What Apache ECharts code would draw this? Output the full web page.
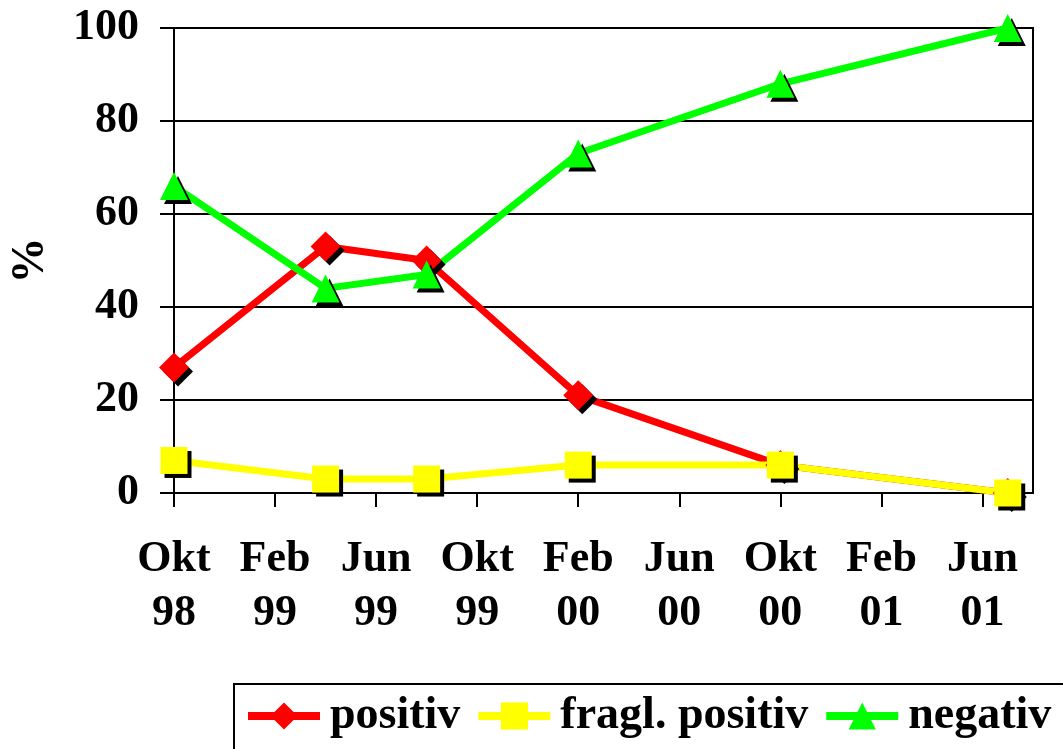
<!DOCTYPE html>
<html>
<head>
<meta charset="utf-8">
<script src="https://cdn.jsdelivr.net/npm/echarts@6/dist/echarts.min.js"></script>
<style>
  html, body { margin: 0; padding: 0; background: #fff; }
  #chart { width: 1063px; height: 749px; }
</style>
</head>
<body>
<div id="chart"></div>
<script>
// months counted from Okt 98
var tickMonths = [0, 4, 8, 12, 16, 20, 24, 28, 32];
var tickLabels = ['Okt\n98', 'Feb\n99', 'Jun\n99', 'Okt\n99', 'Feb\n00', 'Jun\n00', 'Okt\n00', 'Feb\n01', 'Jun\n01'];
var yTicks = [0, 20, 40, 60, 80, 100];

var sampleMonths = [0, 6, 10, 16, 24, 33];
var positiv = [27, 53, 50, 21, 6, 0];
var fraglPositiv = [7, 3, 3, 6, 6, 0];
var negativ = [66, 44, 47, 73, 88, 100];

function pairs(vals) {
  return vals.map(function (v, i) { return [sampleMonths[i], v]; });
}

var font = "'Liberation Serif', 'Times New Roman', serif";
var shadow = { shadowColor: '#000', shadowBlur: 0, shadowOffsetX: 4, shadowOffsetY: 4 };

function lineSeries(name, vals, color, symbol, size) {
  return {
    name: name,
    type: 'line',
    data: pairs(vals),
    symbol: symbol,
    symbolSize: size,
    showAllSymbol: true,
    lineStyle: { color: color, width: 7 },
    itemStyle: Object.assign({ color: color }, shadow)
  };
}

var chart = echarts.init(document.getElementById('chart'));
chart.setOption({
  animation: false,
  backgroundColor: '#fff',
  textStyle: { fontFamily: font, fontWeight: 'bold', color: '#000' },
  grid: {
    left: 172, right: 30, top: 28, bottom: 256,
    show: true, borderColor: '#000', borderWidth: 2
  },
  xAxis: {
    type: 'value',
    min: 0,
    max: 34,
    splitLine: { show: false },
    axisLine: { show: true, onZero: false, lineStyle: { color: '#000', width: 2 } },
    axisTick: { show: true, length: 14, customValues: tickMonths, lineStyle: { color: '#000', width: 2 } },
    axisLabel: {
      customValues: tickMonths,
      margin: 40,
      fontSize: 44,
      lineHeight: 54,
      fontFamily: font,
      fontWeight: 'bold',
      color: '#000',
      formatter: function (v) {
        var i = tickMonths.indexOf(v);
        return i >= 0 ? tickLabels[i] : '';
      }
    }
  },
  yAxis: {
    type: 'value',
    min: yTicks[0],
    max: yTicks[yTicks.length - 1],
    interval: 20,
    name: '%',
    nameLocation: 'middle',
    nameRotate: 90,
    nameGap: 120,
    nameTextStyle: { fontSize: 46, fontFamily: font, fontWeight: 'bold', color: '#000' },
    axisLine: { show: true, lineStyle: { color: '#000', width: 2 } },
    axisTick: { show: true, length: 14, lineStyle: { color: '#000', width: 2 } },
    splitLine: { show: true, lineStyle: { color: '#000', width: 2 } },
    axisLabel: {
      margin: 35,
      fontSize: 44,
      fontFamily: font,
      fontWeight: 'bold',
      color: '#000'
    }
  },
  legend: {
    left: 234,
    top: 684,
    width: 900,
    orient: 'horizontal',
    padding: [9, 30, 30, 10],
    itemWidth: 72,
    itemHeight: 34,
    itemGap: 14,
    borderColor: '#000',
    borderWidth: 2,
    itemStyle: { shadowColor: 'rgba(0,0,0,0)', shadowBlur: 0, shadowOffsetX: 0, shadowOffsetY: 0 },
    lineStyle: { width: 8 },
    textStyle: {
      fontSize: 46,
      lineHeight: 46,
      fontFamily: font,
      fontWeight: 'bold',
      color: '#000',
      padding: [0, 0, 0, 5]
    },
    data: ['positiv', 'fragl. positiv', 'negativ']
  },
  series: [
    lineSeries('positiv', positiv, '#ff0000', 'diamond', 30),
    lineSeries('fragl. positiv', fraglPositiv, '#ffff00', 'rect', 27),
    lineSeries('negativ', negativ, '#00ff00', 'triangle', 28)
  ]
});
</script>
</body>
</html>
